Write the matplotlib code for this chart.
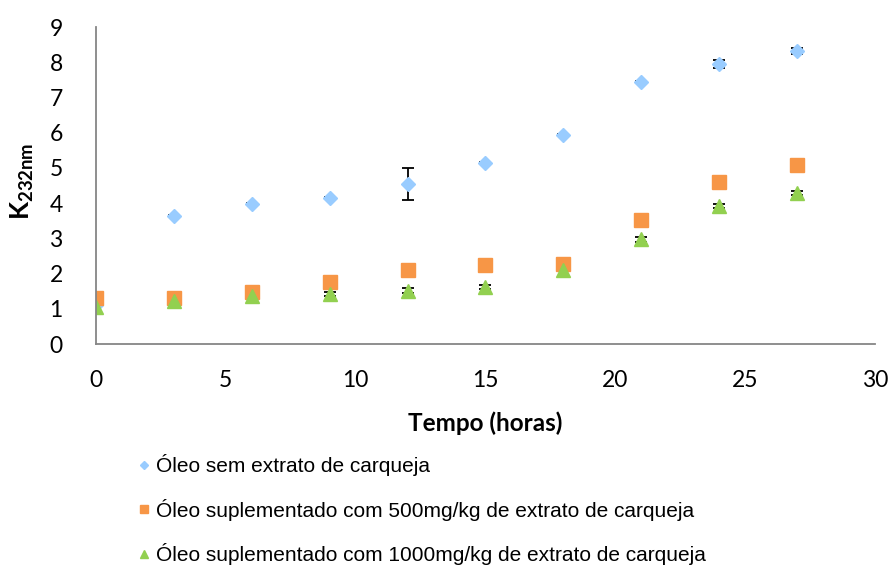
import numpy as np
import matplotlib
matplotlib.use("Agg")
import matplotlib.pyplot as plt

plt.rcParams['mathtext.fontset'] = 'custom'
plt.rcParams['mathtext.rm'] = 'Lato'
plt.rcParams['mathtext.bf'] = 'Lato:bold'

# tempo (horas)
tempo = [0, 3, 6, 9, 12, 15, 18, 21, 24, 27]

# K232nm, oleo sem extrato
k_sem = [1.10, 3.65, 3.98, 4.15, 4.55, 5.15, 5.95, 7.45, 7.95, 8.33]
err_sem = [0.02, 0.02, 0.02, 0.02, 0.45, 0.03, 0.02, 0.02, 0.12, 0.08]

# 500 mg/kg
k_500 = [1.31, 1.31, 1.48, 1.76, 2.10, 2.25, 2.28, 3.52, 4.59, 5.08]
err_500 = [0.03, 0.03, 0.03, 0.03, 0.03, 0.03, 0.03, 0.03, 0.03, 0.03]

# 1000 mg/kg
k_1000 = [1.06, 1.22, 1.37, 1.42, 1.52, 1.62, 2.10, 2.97, 3.91, 4.29]
err_1000 = [0.02, 0.02, 0.02, 0.06, 0.06, 0.06, 0.03, 0.06, 0.06, 0.06]

labels = ['Óleo sem extrato de carqueja',
          'Óleo suplementado com 500mg/kg de extrato de carqueja',
          'Óleo suplementado com 1000mg/kg de extrato de carqueja']

fig = plt.figure(figsize=(8.91, 5.65), dpi=100)
ax = fig.add_axes([0.1077, 0.391, 0.8743, 0.561])

ax.errorbar(tempo, k_sem, yerr=err_sem, fmt='D', color='#99CCFF', ms=6.8,
            ecolor='black', elinewidth=1.3, capsize=4.5, capthick=1.3, label=labels[0])
ax.errorbar(tempo, k_500, yerr=err_500, fmt='s', color='#F79646', ms=10,
            ecolor='black', elinewidth=1.3, capsize=4.5, capthick=1.3, label=labels[1])
ax.errorbar(tempo, k_1000, yerr=err_1000, fmt='^', color='#92D050', ms=9.5,
            ecolor='black', elinewidth=1.3, capsize=4.5, capthick=1.3, label=labels[2])

ax.set_xlim(0, 30)
ax.set_ylim(0, 9)
ax.set_xticks(np.arange(0, 31, 5))
ax.set_yticks(np.arange(0, 10, 1))
for s in ['top', 'right']:
    ax.spines[s].set_visible(False)
for s in ['left', 'bottom']:
    ax.spines[s].set_color('#868686')
    ax.spines[s].set_linewidth(1.3)
ax.tick_params(length=0, labelsize=16.5)
ax.tick_params(axis='x', pad=19)
ax.tick_params(axis='y', pad=24)
for t in ax.get_xticklabels() + ax.get_yticklabels():
    t.set_fontfamily('Lato')

ax.set_xlabel('Tempo (horas)', fontsize=17.5, fontweight='bold', family='Lato')
ax.xaxis.set_label_coords(0.50, -0.212)
ax.set_ylabel(r'$\mathbf{K}_{\mathbf{232nm}}$', fontsize=19)
ax.yaxis.set_label_coords(-0.077, 0.515)

hs, ls = ax.get_legend_handles_labels()
hs = [h[0] for h in hs]
leg = fig.legend(hs, ls, loc='upper left', bbox_to_anchor=(0.157, 0.196),
                 frameon=False, prop={'family': 'Liberation Sans', 'size': 15},
                 handlelength=0.4, handletextpad=0.35, labelspacing=1.08,
                 markerscale=0.55, borderaxespad=0, borderpad=0)

fig.savefig('out.png', dpi=100)
